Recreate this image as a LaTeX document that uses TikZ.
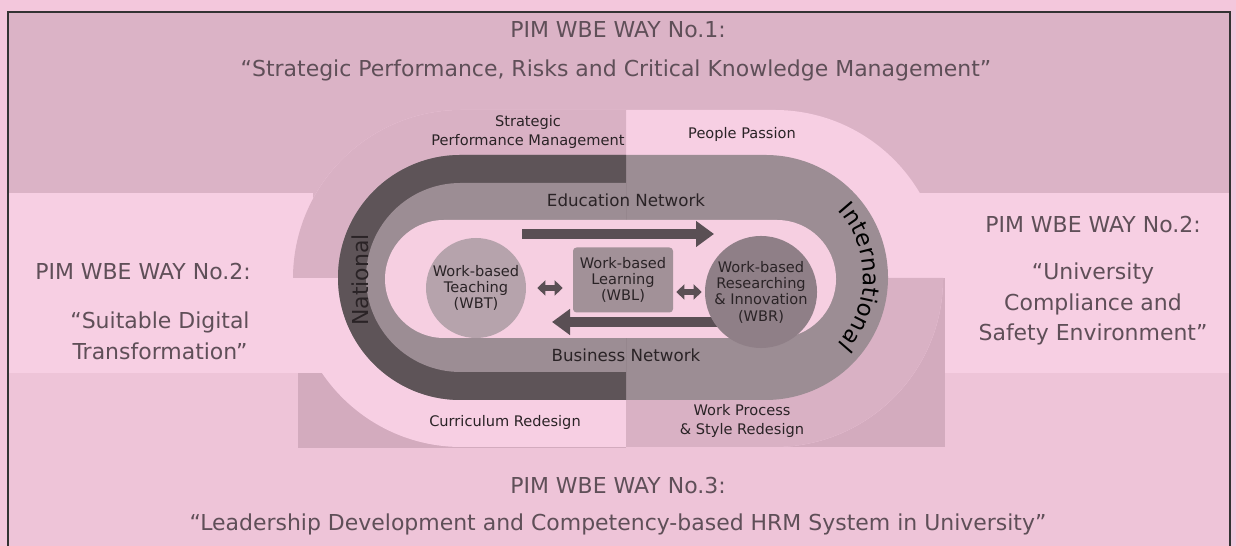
\documentclass[tikz,border=0pt]{standalone}
\usepackage{fontspec}
\setmainfont{DejaVu Sans}
\usetikzlibrary{arrows.meta,decorations.text}

\definecolor{pagepink}{HTML}{F3C7DC}
\definecolor{lowpink}{HTML}{EEC4D8}
\definecolor{lightpink}{HTML}{F7CFE3}
\definecolor{topgray}{HTML}{DBB3C6}
\definecolor{quadgray}{HTML}{D9B1C4}
\definecolor{rectgray}{HTML}{D3ABBE}
\definecolor{ringdark}{HTML}{5E5458}
\definecolor{ringmid}{HTML}{9C8D94}
\definecolor{innerpink}{HTML}{F6CFE1}
\definecolor{wbtfill}{HTML}{B6A3AC}
\definecolor{wblfill}{HTML}{A29198}
\definecolor{wbrfill}{HTML}{8F7F87}
\definecolor{arrowgray}{HTML}{5A4F54}
\definecolor{titlegray}{HTML}{5F4F58}
\definecolor{labeldark}{HTML}{2A2326}
\newcommand\intlfont{\fontsize{13}{13}\selectfont}

\begin{document}
\begin{tikzpicture}[x=0.02cm,y=0.02cm,
  waytitle/.style={text=titlegray,font=\fontsize{12.5}{17.5}\selectfont,align=center},
  ringtext/.style={text=labeldark,font=\fontsize{8.3}{10.8}\selectfont,align=center},
  nettext/.style={text=labeldark,font=\fontsize{9.5}{11}\selectfont},
  celltext/.style={text=labeldark,font=\fontsize{8.3}{9.3}\selectfont,align=center,inner sep=0pt},
  bigarrow/.style={draw=arrowgray,line width=0.2cm,-{Triangle[length=0.36cm,width=0.5cm]}},
  smallarrow/.style={draw=arrowgray,line width=0.12cm,{Triangle[length=0.16cm,width=0.3cm]}-{Triangle[length=0.16cm,width=0.3cm]}}]
\useasboundingbox (0,0) rectangle (1236,546);
\fill[pagepink] (0,0) rectangle (1236,546);
\fill[lowpink] (8,0) rectangle (1230,173);
\fill[lightpink] (8,173) rectangle (1230,353);
\fill[topgray] (8,353) rectangle (1230,534);
\fill[topgray] (313,268) rectangle (626,354);
\fill[rectgray] (626,99) rectangle (945,268);
\fill[rectgray] (298,98) rectangle (626,173);
\draw[line width=0.7pt,black!80] (8,0) -- (8,534) -- (1230,534) -- (1230,0);

\fill[lightpink,rounded corners=3.37cm] (293,99) rectangle (943,436);
\begin{scope}
\clip (293,268) rectangle (626,436) (626,99) rectangle (943,268);
\fill[quadgray,rounded corners=3.37cm] (293,99) rectangle (943,436);
\end{scope}

\fill[ringmid,rounded corners=2.45cm] (338,146) rectangle (888,391);
\begin{scope}
\clip (330,140) rectangle (626,400);
\fill[ringdark,rounded corners=2.45cm] (338,146) rectangle (888,391);
\fill[ringmid,rounded corners=1.89cm] (366,174) rectangle (860,363);
\end{scope}
\fill[innerpink,rounded corners=1.18cm] (385,208) rectangle (836,326);

\coordinate (edu1) at (522,312);
\coordinate (edu2) at (714,312);
\coordinate (bus1) at (780,224);
\coordinate (bus2) at (552,224);
\draw[bigarrow] (edu1) -- (edu2);
\draw[bigarrow] (bus1) -- (bus2);

\node[circle,fill=wbtfill,minimum size=2cm,celltext] (wbt) at (476,258) {Work-based\\Teaching\\(WBT)};
\node[rounded corners=2pt,fill=wblfill,minimum width=2cm,minimum height=1.3cm,celltext] (wbl) at (623,266) {Work-based\\Learning\\(WBL)};
\node[circle,fill=wbrfill,minimum size=2.06cm,celltext] (wbr) at (761,254) {Work-based\\Researching\\\& Innovation\\(WBR)};
\draw[smallarrow,shorten <=0.22cm,shorten >=0.2cm] (wbt.east) -- (wbt.east -| wbl.west);
\draw[smallarrow,shorten <=0.06cm,shorten >=0.06cm] (wbr.west -| wbl.east) -- (wbr.west);

\node[nettext] (edu) at (626,346) {Education Network};
\node[nettext] (bus) at (626,191) {Business Network};
\node[rotate=90,text=labeldark,font=\fontsize{12.5}{13}\selectfont] (nat) at (360,266) {National};
\path[decorate,decoration={text along path,text align=center,text={|\intlfont|International}}]
  (765.5,268.5) ++(72:98) arc[start angle=72,end angle=-72,radius=98];

\node[ringtext] (spm) at (528,414) {Strategic\\Performance Management};
\node[ringtext] (pp) at (742,412) {People Passion};
\node[ringtext] (cr) at (505,124) {Curriculum Redesign};
\node[ringtext] (wp) at (742,125) {Work Process\\\& Style Redesign};

\node[waytitle] (way1) at (618,516) {PIM WBE WAY No.1:};
\node[waytitle] (way1t) at (616,476) {“Strategic Performance, Risks and Critical Knowledge Management”};
\node[waytitle] (way2l) at (143,274) {PIM WBE WAY No.2:};
\node[waytitle] (way2lt) at (160,210) {“Suitable Digital\\Transformation”};
\node[waytitle] (way2r) at (1093,321) {PIM WBE WAY No.2:};
\node[waytitle] (way2rt) at (1093,242) {“University\\Compliance and\\Safety Environment”};
\node[waytitle] (way3) at (618,60) {PIM WBE WAY No.3:};
\node[waytitle] (way3t) at (618,22) {“Leadership Development and Competency-based HRM System in University”};
\end{tikzpicture}
\end{document}
